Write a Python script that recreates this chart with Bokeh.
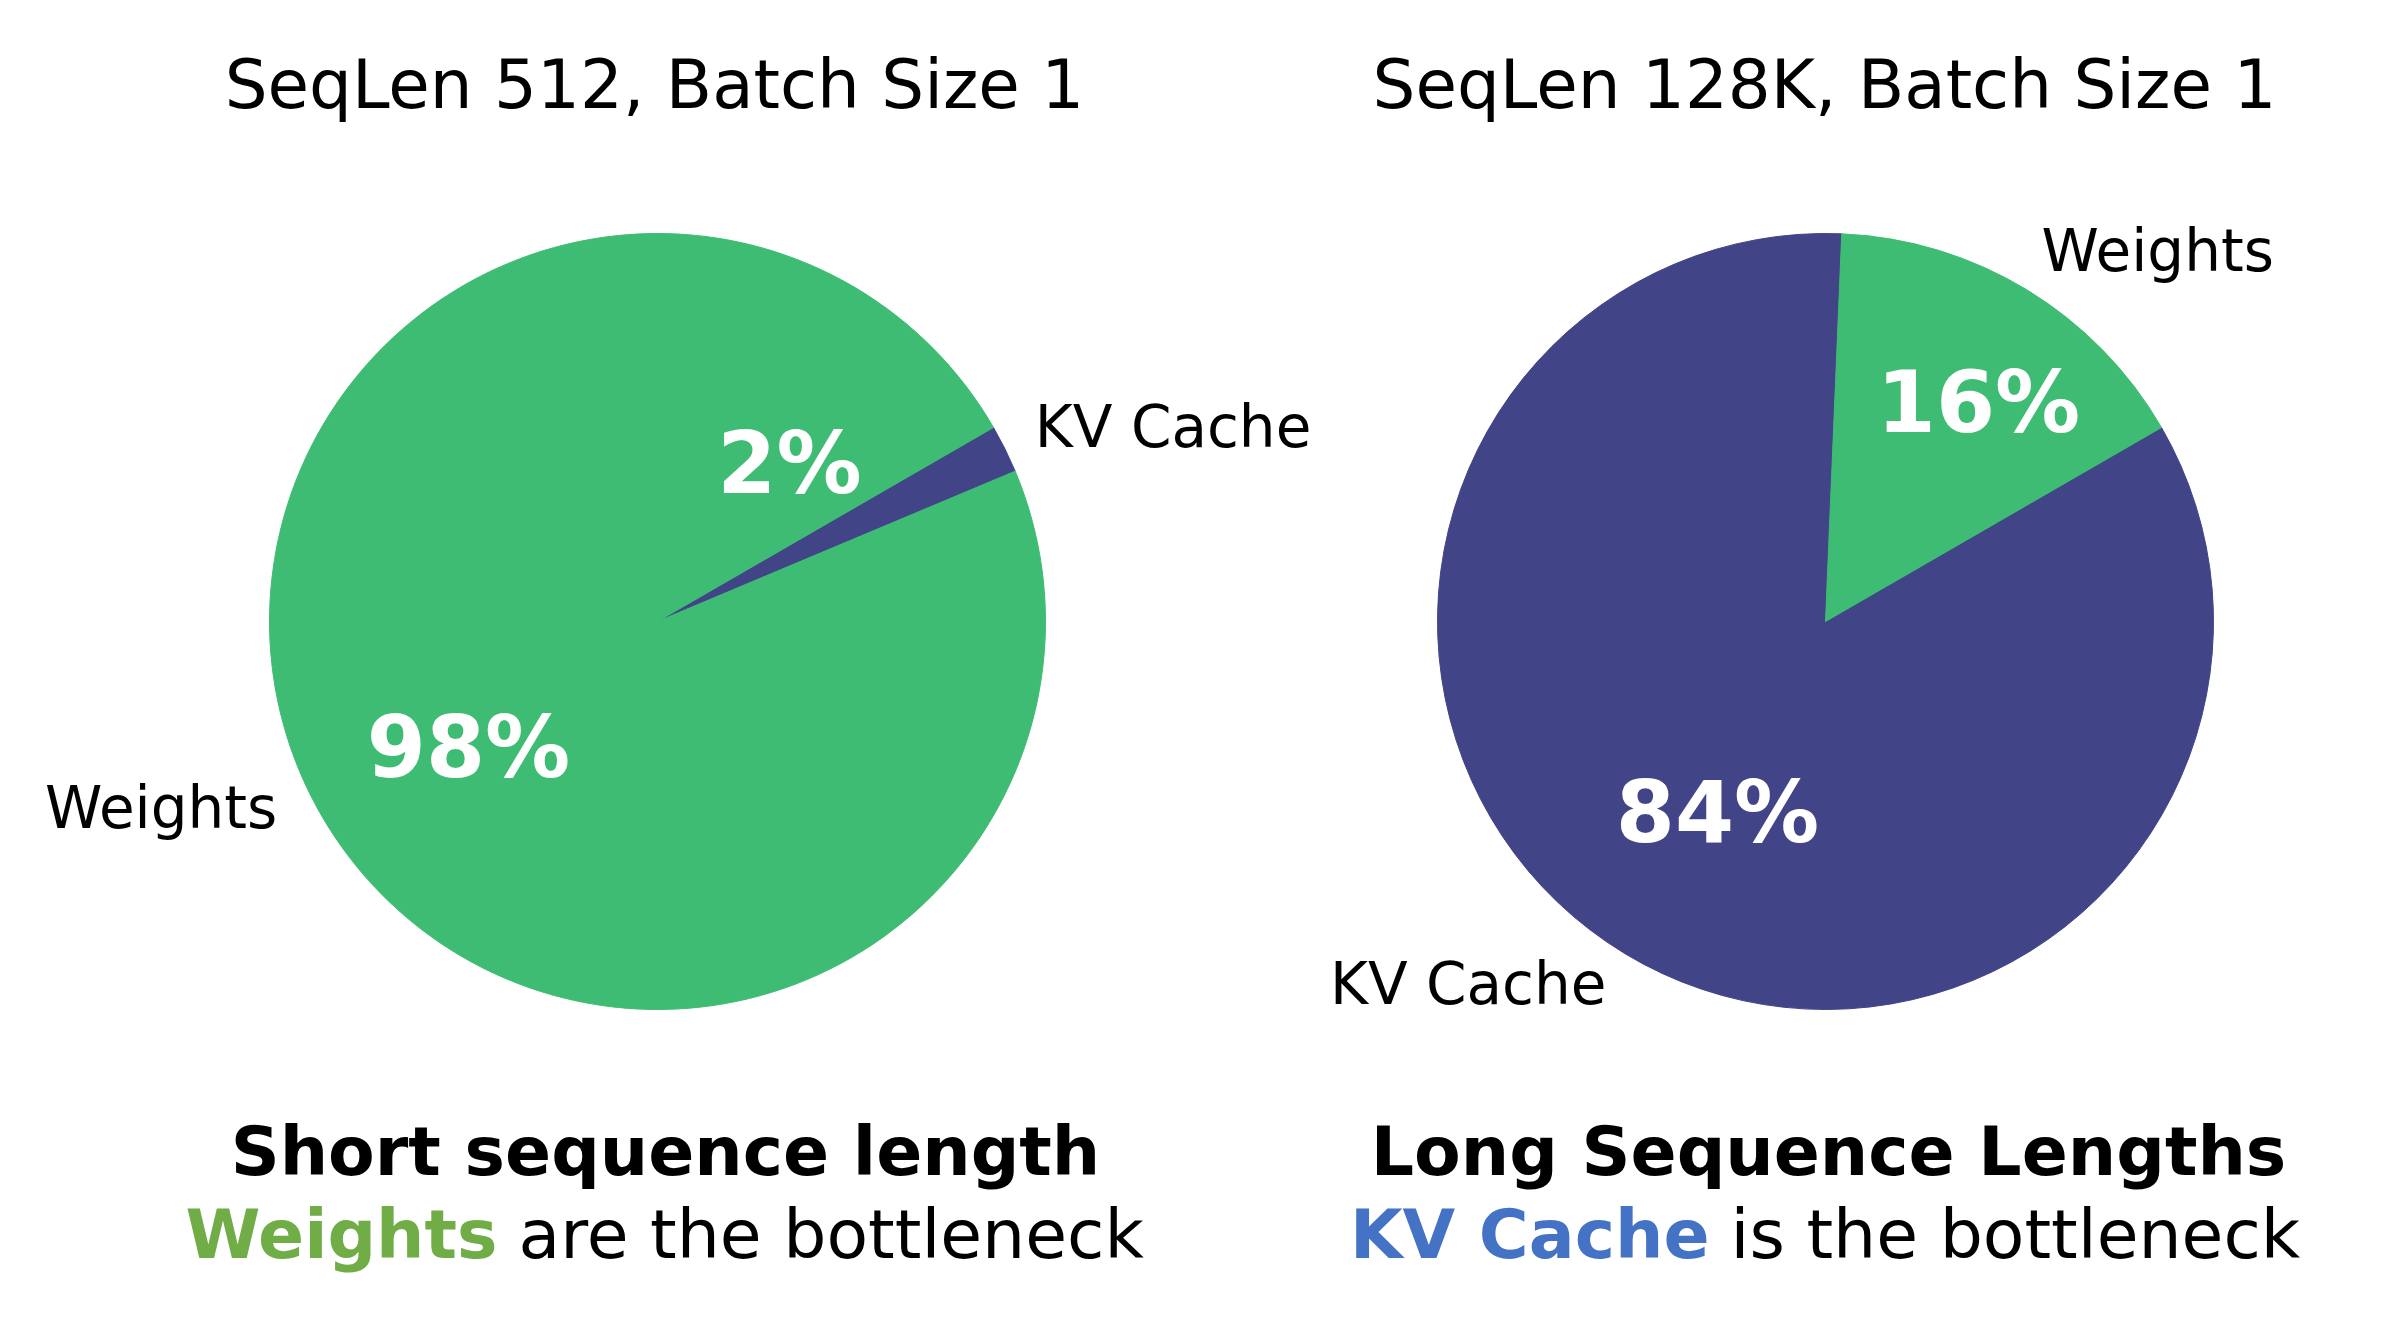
import math

from bokeh.core.properties import value
from bokeh.embed import file_html
from bokeh.models import ColumnDataSource, Range1d
from bokeh.plotting import figure
from bokeh.resources import INLINE

# chart data
categories = ["KV Cache", "Weights"]
short_share = [2, 98]    # SeqLen 512
long_share = [84, 16]    # SeqLen 128K
pie_titles = ["SeqLen 512, Batch Size 1", "SeqLen 128K, Batch Size 1"]
headlines = ["Short sequence length", "Long Sequence Lengths"]
bottleneck_words = ["Weights", "KV Cache"]
bottleneck_tails = ["are the bottleneck", "is the bottleneck"]

# styling / layout (pixel space of a 2400x1320 canvas, y measured downward)
W, H = 2400, 1320
FONT = "DejaVu Sans"
slice_colors = {"KV Cache": "#414487", "Weights": "#3FBC73"}
highlight_colors = ["#70AD47", "#4472C4"]
R = 388
START_ANGLE = 30.0
BASELINE_FIX = 26   # bokeh draws alphabetic text a little low
pie_centers = [(657, 621), (1825, 621)]
title_x = [654, 1824]
headline_x = [665, 1828]
split_x = [497, 1709]
SPACE = 21
# where each percentage label sits (centre x, baseline y)
pct_anchor = [
    {"KV Cache": (789, 489), "Weights": (468, 773)},
    {"KV Cache": (1717, 838), "Weights": (1978, 428)},
]


def fy(y):
    # flip a downward pixel y into the figure's upward data y
    return H - y


p = figure(width=W - 16, height=H - 16, output_backend="svg", toolbar_location=None,
           x_range=Range1d(0, W - 16), y_range=Range1d(16, H), min_border=0)
p.axis.visible = False
p.grid.visible = False
p.outline_line_color = None
p.background_fill_color = "white"
p.border_fill_color = "white"


def add_text(x, y, txt, size, color="black", align="center", style="normal"):
    p.text(x=[x], y=[fy(y - BASELINE_FIX)], text=[txt], text_font=value(FONT),
           text_font_size=value(size), text_color=color, text_align=align,
           text_baseline="alphabetic", text_font_style=style)


for i, shares in enumerate([short_share, long_share]):
    cx, cy = pie_centers[i]
    total = float(sum(shares))

    # wedges run clockwise from START_ANGLE, first category first
    starts, ends, cols = [], [], []
    a = START_ANGLE
    for cat, share in zip(categories, shares):
        sweep = share / total * 360.0
        starts.append(math.radians(a - sweep))
        ends.append(math.radians(a))
        cols.append(slice_colors[cat])

        # slice name just outside the rim, pushed a little towards the pie
        mid = math.radians(a - sweep / 2)
        right_side = math.cos(mid) > 0
        lx = cx + 1.1 * R * math.cos(mid) + (-5 if right_side else 2)
        ly = cy - 1.1 * R * math.sin(mid) + (21 if right_side else 23)
        add_text(lx, ly, cat, "58px", align="left" if right_side else "right")
        a -= sweep

    src = ColumnDataSource(data=dict(x=[cx] * len(shares), y=[fy(cy)] * len(shares),
                                     start=starts, end=ends, color=cols))
    p.wedge(x="x", y="y", radius=R, start_angle="start", end_angle="end",
            fill_color="color", line_color="color", line_width=1, source=src, level="underlay")

    for cat, share in zip(categories, shares):
        px, py = pct_anchor[i][cat]
        add_text(px, py, f"{share}%", "85px", color="white", style="bold")

    add_text(title_x[i], 110, pie_titles[i], "67.5px")
    add_text(headline_x[i], 1177, headlines[i], "68px", style="bold")
    add_text(split_x[i], 1260, bottleneck_words[i], "68px", color=highlight_colors[i],
             align="right", style="bold")
    add_text(split_x[i] + SPACE, 1260, bottleneck_tails[i], "68px", align="left")

open("out.html", "w").write(file_html(p, INLINE))
